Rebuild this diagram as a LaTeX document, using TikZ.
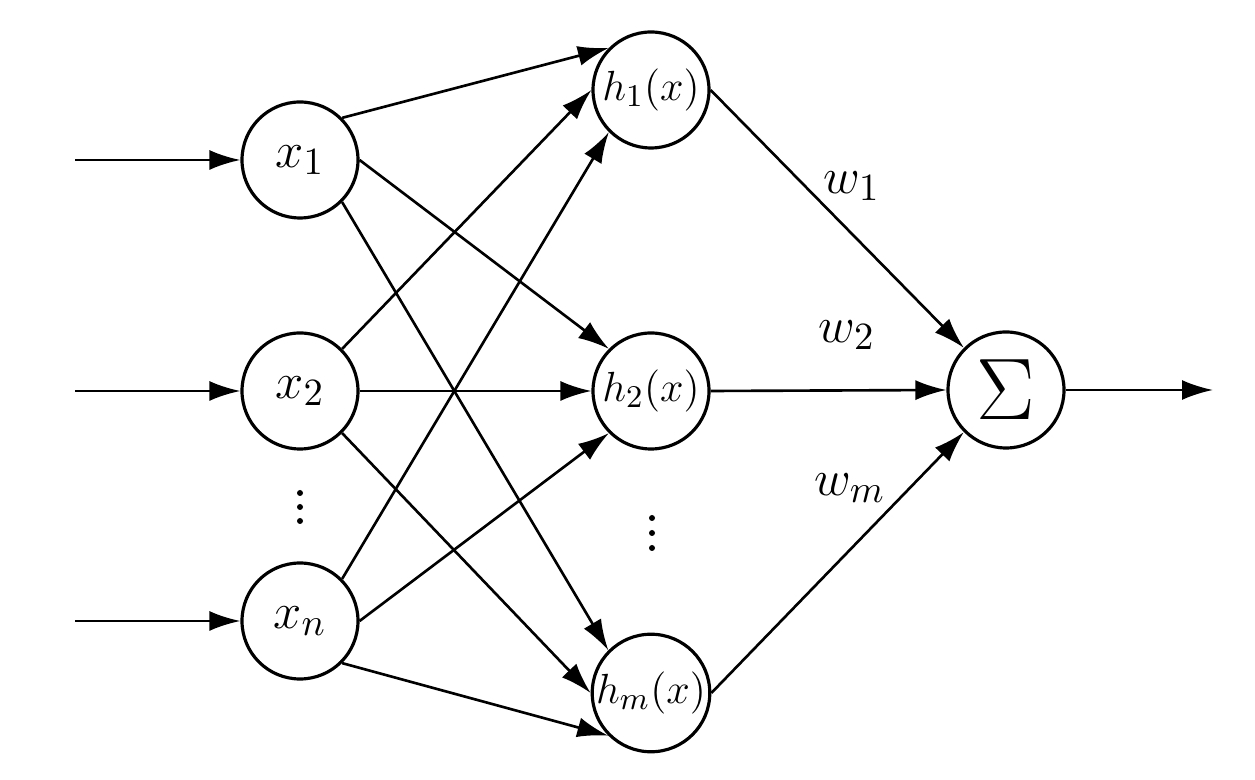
\documentclass[tikz,border=0pt]{standalone}
\usepackage{amsmath,amssymb}
\usepackage{tikz}
\usetikzlibrary{arrows.meta}

\begin{document}
\begin{tikzpicture}[x=0.1mm, y=-0.1mm,
  neuron/.style={circle, draw, line width=0.9pt, minimum size=11.6mm, inner sep=0pt, font=\fontsize{15}{18}\selectfont},
  hidden/.style={neuron, font=\fontsize{13}{16}\selectfont},
  wlabel/.style={font=\fontsize{15}{18}\selectfont},
  link/.style={line width=0.75pt, -{Latex[length=3.1mm, width=2mm]}}]
\useasboundingbox (0,0) rectangle (1255,780);
% input layer
\node[neuron] (x1) at (300,160) {$x_1$};
\node[neuron] (x2) at (300,391) {$x_2$};
\node[neuron] (xn) at (300,621) {$x_n$};
\foreach \y in {493, 507, 521}
    \fill (300,\y) circle [radius=3];
% hidden layer
\node[hidden] (h1) at (651,90) {$h_1(x)$};
\node[hidden] (h2) at (651,391) {$h_2(x)$};
\node[hidden] (hm) at (651,693) {$h_m(x)$};
\foreach \y in {518, 533, 548}
    \fill (652,\y) circle [radius=3];
% output
\node[neuron, font=\fontsize{26}{30}\selectfont] (sum) at (1006,390) {$\Sigma$};
\coordinate (in1) at (75,160);
\coordinate (in2) at (75,391);
\coordinate (inn) at (75,621);
\coordinate (out) at (1213,390);
\draw[link] (in1) -- (x1);
\draw[link] (in2) -- (x2);
\draw[link] (inn) -- (xn);
\foreach \s/\a in {x1/north west, x2/west, xn/south west}
    \foreach \t/\b in {h1/north east, h2/east, hm/south east}
        \draw[link] (\s.\b) -- (\t.\a);
\draw[link] (h1.east) -- (sum.north west);
\draw[link] (h2.east) -- (sum.west);
\draw[link] (hm.east) -- (sum.south west);
\draw[link] (sum) -- (out);
% weights
\node[wlabel] (w1) at (852,186) {$w_1$};
\node[wlabel] (w2) at (847,335) {$w_2$};
\node[wlabel] (wm) at (850,488) {$w_m$};
\end{tikzpicture}
\end{document}
